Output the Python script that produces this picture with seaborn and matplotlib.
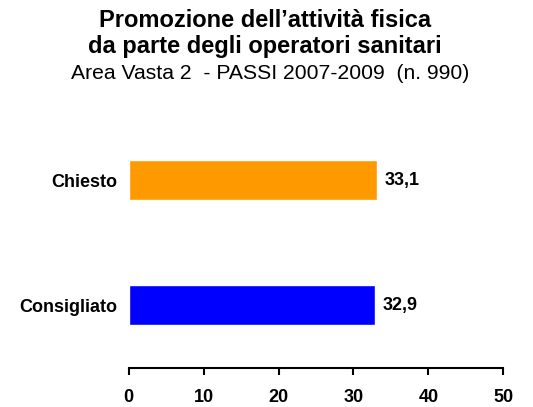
import matplotlib
matplotlib.use('Agg')
import matplotlib.pyplot as plt
import seaborn as sns
import pandas as pd

# ── Data ──────────────────────────────────────────────────────────────────────
categories = ["Chiesto", "Consigliato"]
values     = [33.1, 32.9]
bar_colors = ["#FF9900", "#0000FF"]
x_ticks    = [0, 10, 20, 30, 40, 50]

df = pd.DataFrame({"categoria": categories, "valore": values})

sns.set_style("white")
plt.rcParams['font.family'] = ['Liberation Sans', 'DejaVu Sans']
plt.rcParams['text.color'] = 'black'
plt.rcParams['xtick.color'] = 'black'
plt.rcParams['ytick.color'] = 'black'

fig = plt.figure(figsize=(5.33, 4.07), dpi=100)
ax = fig.add_axes([0.2415, 0.0966, 0.7028, 0.6147])

sns.barplot(data=df, x="valore", y="categoria", hue="categoria",
            palette=bar_colors, order=categories, hue_order=categories,
            width=0.32, legend=False, saturation=1, ax=ax)

# value labels
for i, v in enumerate(values):
    ax.text(v + 1.0, i, f"{v:.1f}".replace(".", ","), va="center", ha="left",
            fontsize=13, fontweight="bold")

ax.set_xlim(0, 50)
ax.set_ylim(1.5, -0.5)
ax.set_xticks(x_ticks)
ax.set_xticklabels([str(t) for t in x_ticks], fontsize=13, fontweight="bold")
ax.set_yticks(range(len(categories)))
ax.set_yticklabels(categories, fontsize=13, fontweight="bold")
ax.tick_params(axis="y", length=0, pad=8)
ax.tick_params(axis="x", direction="out", length=5, width=1.5, pad=10,
               bottom=True, color="black")
ax.set_xlabel("")
ax.set_ylabel("")

for s in ["top", "right", "left"]:
    ax.spines[s].set_visible(False)
ax.spines["bottom"].set_linewidth(1.5)
ax.spines["bottom"].set_color("black")

# titles
fig.text(0.497, 0.9344, "Promozione dell\u2019attività fisica", ha="center",
         va="baseline", fontsize=17, fontweight="bold")
fig.text(0.497, 0.8698, "da parte degli operatori sanitari", ha="center",
         va="baseline", fontsize=17, fontweight="bold")
fig.text(0.507, 0.806, "Area Vasta 2  - PASSI 2007-2009  (n. 990)", ha="center",
         va="baseline", fontsize=15.2)

fig.savefig("out.png", dpi=100)
